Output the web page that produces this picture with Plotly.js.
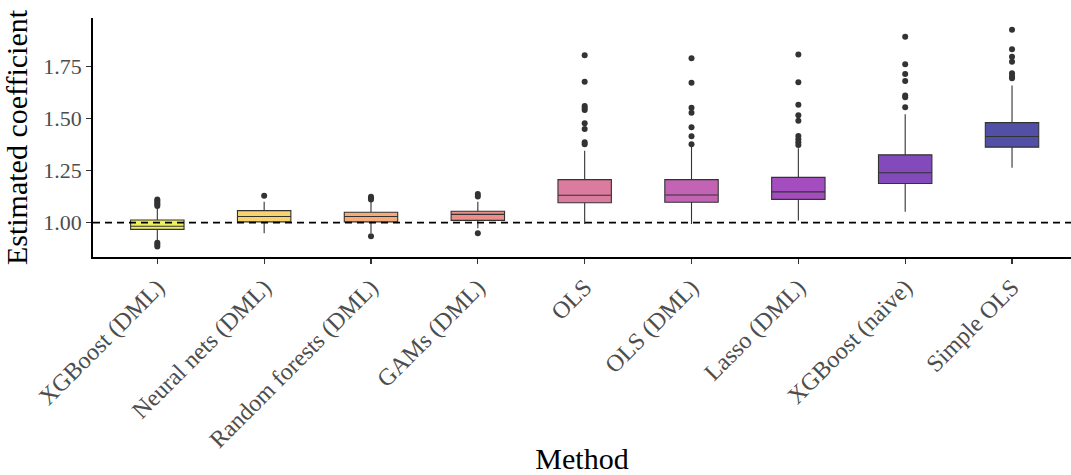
<!DOCTYPE html>
<html>
<head>
<meta charset="utf-8">
<script src="https://cdn.plot.ly/plotly-3.0.1.min.js"></script>
<style>html,body{margin:0;padding:0;background:#fff;}#chart{width:1071px;height:475px;}</style>
</head>
<body>
<div id="chart"></div>
<script>
const methods = ["XGBoost (DML)", "Neural nets (DML)", "Random forests (DML)", "GAMs (DML)", "OLS", "OLS (DML)", "Lasso (DML)", "XGBoost (naive)", "Simple OLS"];
const q1 =     [0.968, 1.004, 1.004, 1.011, 1.096, 1.098, 1.112, 1.188, 1.363];
const median = [0.983, 1.030, 1.030, 1.040, 1.132, 1.133, 1.148, 1.240, 1.414];
const q3 =     [1.013, 1.058, 1.050, 1.055, 1.207, 1.207, 1.218, 1.326, 1.481];
const lowerWhisker = [0.912, 0.949, 0.950, 0.973, 0.994, 0.994, 1.010, 1.053, 1.264];
const upperWhisker = [1.068, 1.101, 1.100, 1.101, 1.346, 1.365, 1.358, 1.521, 1.659];
const outliers = [
  [1.112, 1.104, 1.096, 1.088, 1.080, 0.904, 0.895, 0.886],
  [1.130],
  [1.125, 1.118, 1.112, 0.935],
  [1.138, 1.126, 0.949],
  [1.805, 1.678, 1.561, 1.551, 1.542, 1.478, 1.450, 1.387, 1.377],
  [1.790, 1.673, 1.553, 1.529, 1.459, 1.415, 1.377],
  [1.808, 1.675, 1.567, 1.516, 1.490, 1.417, 1.401, 1.387, 1.374],
  [1.894, 1.762, 1.715, 1.681, 1.612, 1.603, 1.555],
  [1.928, 1.834, 1.798, 1.774, 1.718, 1.704, 1.694]
];
const reference = 1.0;
const yTicks = [1.00, 1.25, 1.50, 1.75];
const fills = ["#EDEF5E", "#F8D26A", "#F6AB78", "#ED8E8A", "#DB7B9D", "#C363B3", "#A44DBF", "#824ABA", "#5250A6"];

const FONT = "Liberation Serif, Times New Roman, serif";
const traces = [];
methods.forEach((m, i) => {
  traces.push({
    type: "box",
    x: [m],
    q1: [q1[i]], median: [median[i]], q3: [q3[i]],
    lowerfence: [lowerWhisker[i]], upperfence: [upperWhisker[i]],
    width: 0.5,
    fillcolor: fills[i],
    line: {color: "#333333", width: 1.1},
    whiskerwidth: 0,
    boxpoints: false,
    showlegend: false,
    hoverinfo: "skip"
  });
});
const ox = [], oy = [];
methods.forEach((m, i) => outliers[i].forEach(v => { ox.push(m); oy.push(v); }));
traces.push({
  type: "scatter", mode: "markers", x: ox, y: oy,
  marker: {color: "#333333", size: 6},
  showlegend: false, hoverinfo: "skip"
});

const layout = {
  width: 1071, height: 475,
  margin: {l: 93, r: 0, t: 18, b: 218},
  paper_bgcolor: "#ffffff", plot_bgcolor: "#ffffff",
  boxmode: "overlay",
  showlegend: false,
  font: {family: FONT, color: "#000"},
  xaxis: {
    type: "category", categoryorder: "array", categoryarray: methods,
    range: [-0.602, 8.552],
    showgrid: false, zeroline: false,
    showline: true, linecolor: "#000", linewidth: 1.8,
    ticks: "outside", ticklen: 5, tickwidth: 1.2, tickcolor: "#333",
    tickangle: -45,
    tickfont: {family: FONT, size: 24, color: "#4D4D4D"},
    title: {text: "Method", font: {family: FONT, size: 30, color: "#000"}, standoff: 20},
    automargin: false
  },
  yaxis: {
    range: [0.835, 1.984],
    tickvals: yTicks, ticktext: yTicks.map(v => v.toFixed(2)),
    showgrid: false, zeroline: false,
    showline: true, linecolor: "#000", linewidth: 1.8,
    ticks: "outside", ticklen: 5, tickwidth: 1.2, tickcolor: "#333",
    tickfont: {family: FONT, size: 22, color: "#4D4D4D"},
    title: {text: "Estimated coefficient", font: {family: FONT, size: 30, color: "#000"}, standoff: 8},
    automargin: false
  },
  shapes: [{
    type: "line", xref: "paper", x0: 0, x1: 1, yref: "y", y0: reference, y1: reference,
    line: {color: "#000", width: 1.7, dash: "7px,5px"}, layer: "above"
  }]
};
Plotly.newPlot("chart", traces, layout, {staticPlot: true, displayModeBar: false});
</script>
</body>
</html>
